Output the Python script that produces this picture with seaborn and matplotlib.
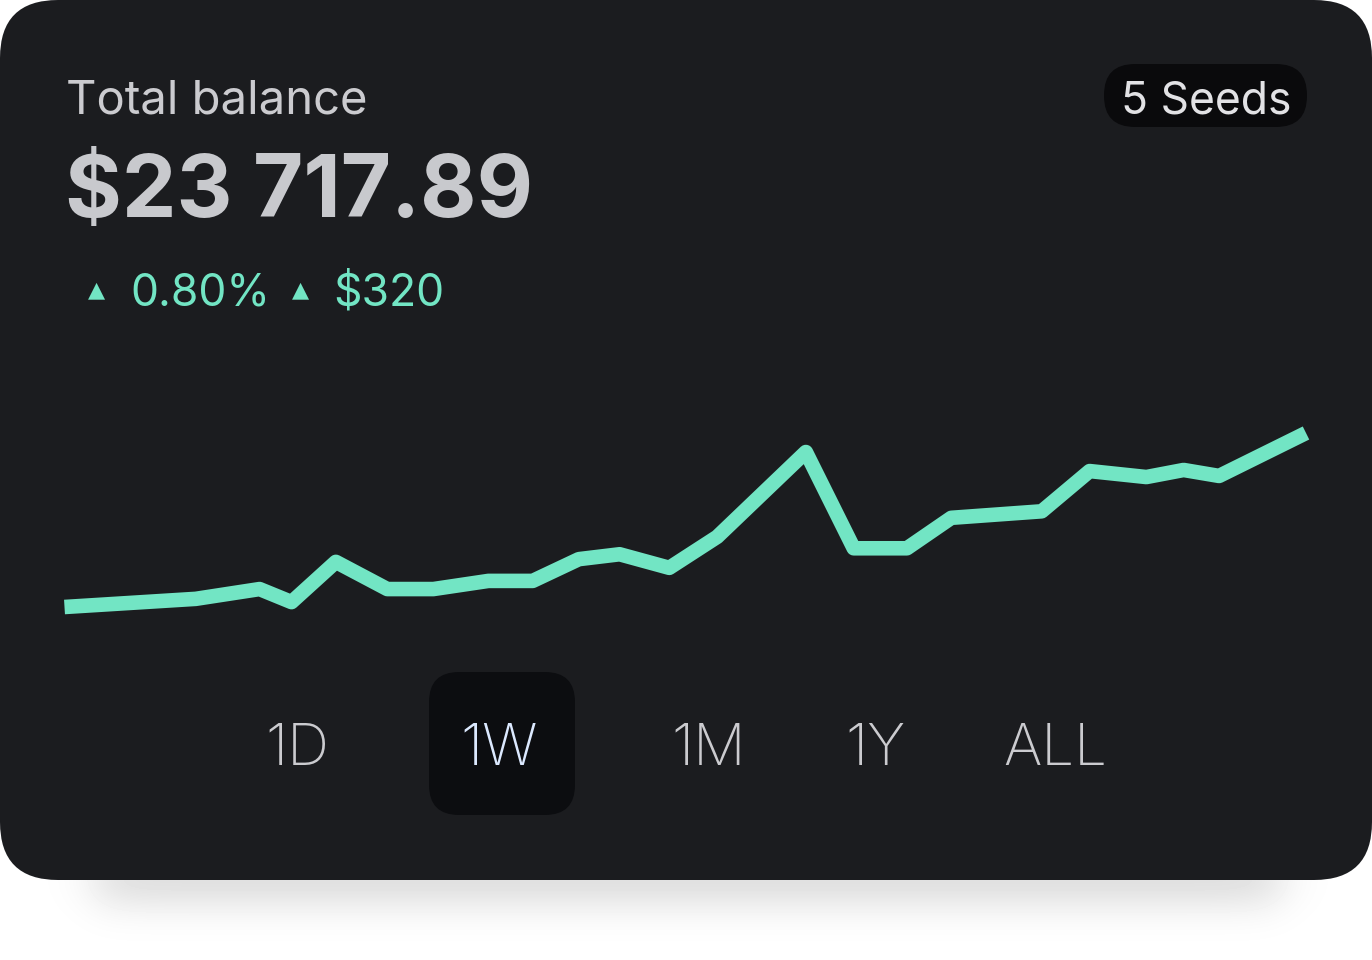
import numpy as np
import pandas as pd
import matplotlib
matplotlib.use("Agg")
import matplotlib.pyplot as plt
from matplotlib.patches import FancyBboxPatch
import seaborn as sns

# balance over the week (day index, USD)
days = [0.00, 0.74, 1.10, 1.28, 1.53, 1.82, 2.08, 2.39, 2.64, 2.90, 3.13, 3.41,
        3.68, 4.18, 4.45, 4.75, 5.00, 5.51, 5.78, 6.10, 6.31, 6.51, 7.00]
balance = [23398, 23413, 23431, 23407, 23481, 23431, 23431, 23446, 23446, 23486,
           23495, 23470, 23527, 23683, 23506, 23506, 23562, 23574, 23648, 23637,
           23650, 23639, 23718]
title = "Total balance"
total = "$23 717.89"
pct_change = "0.80%"
abs_change = "$320"
seeds = "5 Seeds"
periods = ["1D", "1W", "1M", "1Y", "ALL"]
selected = "1W"

df = pd.DataFrame({"day": days, "balance": balance})

W, H = 1372, 960
card = "#1b1c1f"
mint = "#72e5c4"
light = "#cbcbcf"

sns.set_theme(style="white")
plt.rcParams["font.family"] = ["Inter", "DejaVu Sans"]

fig = plt.figure(figsize=(W / 100, H / 100), dpi=100)
fig.patch.set_facecolor("white")

bg = fig.add_axes([0, 0, 1, 1])
bg.set_xlim(0, W)
bg.set_ylim(H, 0)
bg.axis("off")

# soft shadow under the card
yy, xx = np.mgrid[860:960, 0:W]
fy = np.exp(-((yy - 878) / 34.0) ** 2)
fx = 0.5 * (np.tanh((xx - 95) / 28.0) - np.tanh((xx - 1280) / 28.0))
shade = 1 - 0.12 * fy * fx
bg.imshow(shade, cmap="gray", vmin=0, vmax=1, extent=(0, W, 960, 860),
          aspect="auto", zorder=0, interpolation="bilinear")

bg.add_patch(FancyBboxPatch((0, 0), W, 880, boxstyle="round,pad=0,rounding_size=58",
                            fc=card, ec="none", zorder=1))

# header
bg.text(66, 113, title, fontsize=34, color=light, zorder=3)
bg.text(65, 217, total, fontsize=62.5, fontweight="bold", color="#c8c9cd", zorder=3)
bg.text(96, 296, "▲", fontsize=16, color=mint, ha="center", family=["DejaVu Sans"], zorder=3)
bg.text(130, 305, pct_change, fontsize=32, color=mint, zorder=3)
bg.text(300, 296, "▲", fontsize=16, color=mint, ha="center", family=["DejaVu Sans"], zorder=3)
bg.text(333, 305, abs_change, fontsize=32, color=mint, zorder=3)

# seeds pill
bg.add_patch(FancyBboxPatch((1104, 64), 203, 63, boxstyle="round,pad=0,rounding_size=31",
                            fc="#0a0a0c", ec="none", zorder=2))
bg.text(1206, 113, seeds, fontsize=32, color="#e2e2e5", ha="center", va="baseline", zorder=3)

# period selector
xs = [297, 499, 709, 875, 1055]
for lab, x in zip(periods, xs):
    if lab == selected:
        bg.add_patch(FancyBboxPatch((429, 672), 146, 143, boxstyle="round,pad=0,rounding_size=30",
                                    fc="#0c0d10", ec="none", zorder=2))
        col = "#dce9ff"
    else:
        col = light
    bg.text(x, 765, lab, fontsize=42, fontweight="light", color=col, ha="center",
            va="baseline", zorder=3)

# line chart
ax = fig.add_axes([64.5 / W, 1 - 607 / H, (1306 - 64.5) / W, 174 / H])
ax.set_facecolor("none")
sns.lineplot(data=df, x="day", y="balance", ax=ax, color=mint, linewidth=10.5,
             solid_joinstyle="round", solid_capstyle="butt", clip_on=False)
ax.set_xlim(0, 7)
ax.set_ylim(min(balance), max(balance))
ax.axis("off")

fig.savefig("out.png", dpi=100)
